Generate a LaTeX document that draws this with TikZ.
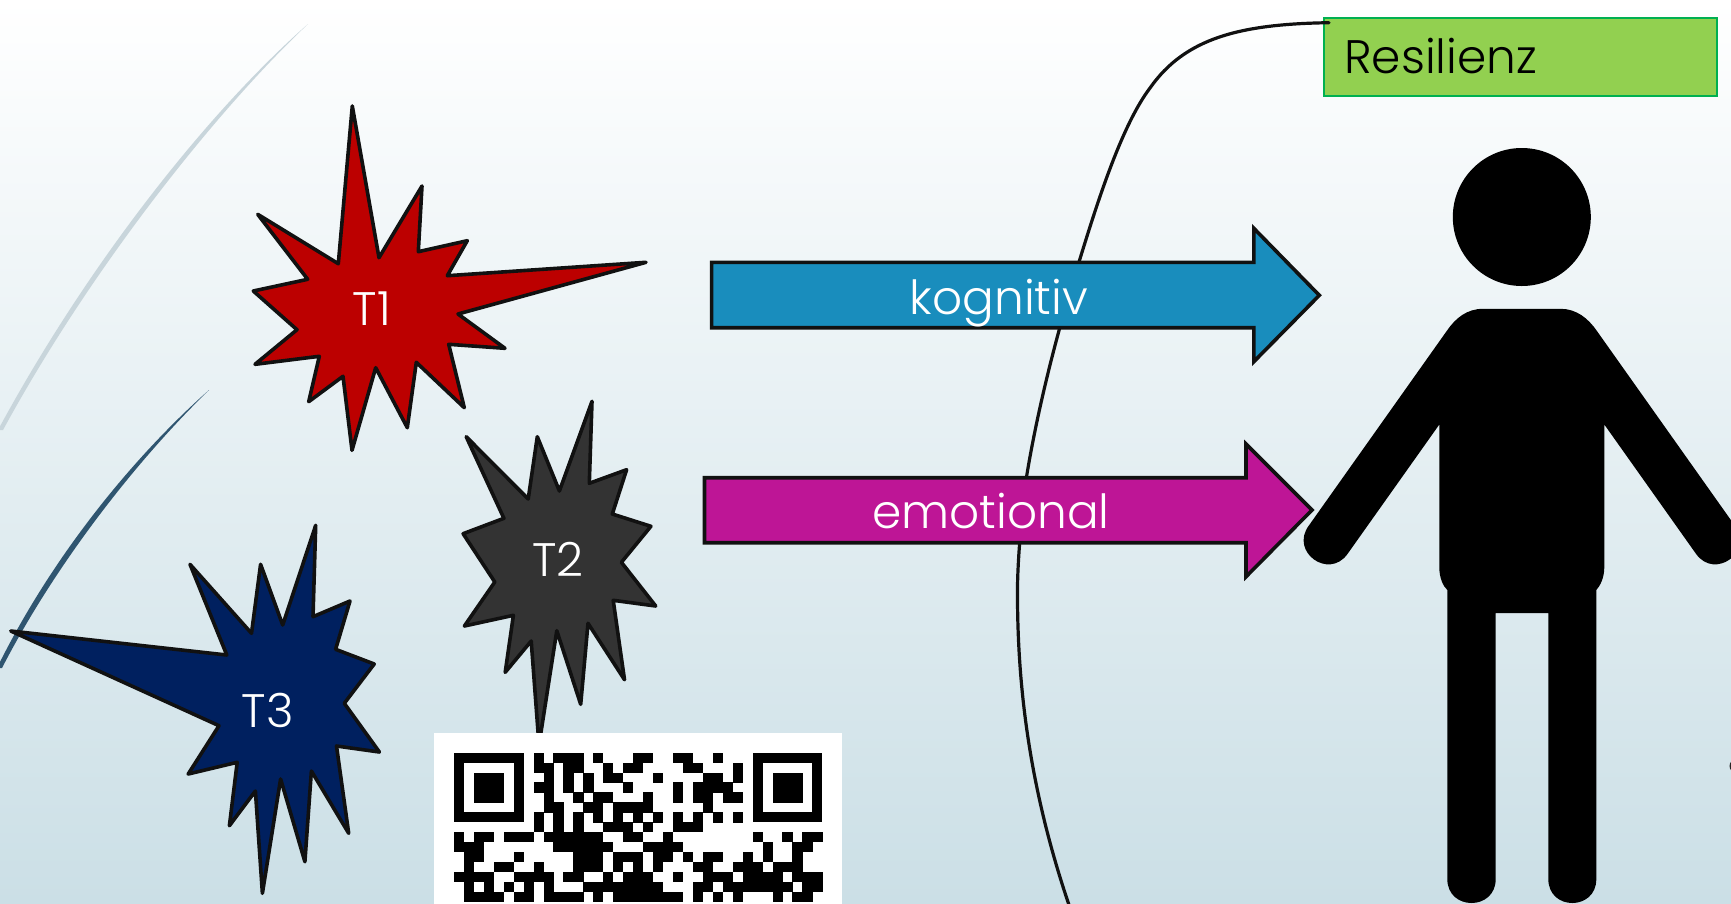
\documentclass[tikz,border=0pt]{standalone}
\usepackage{fontspec}
\setmainfont{Poppins}[UprightFont=* Light]
\definecolor{bgtop}{HTML}{FFFFFF}
\definecolor{bgmid}{HTML}{E9F1F4}
\definecolor{bgbot}{HTML}{CBDFE6}
\definecolor{swlight}{HTML}{C8D5DB}
\definecolor{swdark}{HTML}{2F5570}
\definecolor{edge}{HTML}{111111}
\definecolor{arrblue}{HTML}{198DBD}
\definecolor{arrmag}{HTML}{BE1596}
\definecolor{redT}{HTML}{BC0000}
\definecolor{greyT}{HTML}{333333}
\definecolor{navyT}{HTML}{00205F}
\definecolor{resfill}{HTML}{92D050}
\definecolor{resline}{HTML}{00B050}
\tikzset{
  burst/.style={draw=edge,line width=3.6pt,line join=round},
  blockarrow/.style={draw=edge,line width=3.6pt,line join=miter},
  lab/.style={text=white,font=\fontsize{47}{47}\selectfont,inner sep=0pt,anchor=base},
  curveline/.style={draw=edge,line width=3.2pt,line cap=round},
}
\begin{document}
\begin{tikzpicture}[x=1pt,y=-1pt]
\useasboundingbox (0,0) rectangle (1731,903);
\begin{scope}
\clip (0,0) rectangle (1731,903);
\shade[top color=bgtop,middle color=bgmid,bottom color=bgbot] (0,0) rectangle (1731,903);
% swooshes
\fill[swlight] (308,24) .. controls (210,110) and (90,260) .. (-2,430) -- (3,430) .. controls (90,270) and (215,112) .. (308,24) -- cycle;
\fill[swdark] (209,390) .. controls (130,460) and (50,560) .. (-3,668) -- (2,668) .. controls (55,565) and (135,462) .. (209,390) -- cycle;
% Resilienz
\draw[draw=resline,fill=resfill,line width=2pt] (1323.7,18.4) rectangle (1716.7,95.6);
\node[lab,text=black,anchor=base west] (res) at (1344,73.7) {Resilienz};
% curve
\draw[curveline] (1329,22.7) .. controls (1240,24) and (1185,38) .. (1150,88) .. controls (1122,125) and (1098,200) .. (1079,262) .. controls (1050,355) and (1034,430) .. (1026,480) .. controls (1020,530) and (1017,570) .. (1017.5,600) .. controls (1018,690) and (1030,790) .. (1069,905);
% arrows
\draw[blockarrow,fill=arrblue] (711.6,262.3) -- (1253.8,262.3) -- (1253.8,228.3) -- (1319.3,295.3) -- (1253.8,361.7) -- (1253.8,327.7) -- (711.6,327.7) -- cycle;
\draw[blockarrow,fill=arrmag] (704.5,477.7) -- (1246,477.7) -- (1246,444) -- (1312,510) -- (1246,576.7) -- (1246,542.7) -- (704.5,542.7) -- cycle;
\node[lab] (kog) at (999,314) {kognitiv};
\node[lab] (emo) at (991,528.7) {emotional};
% T1
\draw[burst,fill=redT] (352.3,106) -- (379,257.7) -- (422,186) -- (418.3,251.7) -- (467.3,240.7) -- (447.3,275.7) -- (646,262.3) -- (458,314) -- (505,348.3) -- (448.7,344.3) -- (464.3,407.7) -- (416.3,362.3) -- (407.3,427.7) -- (375.7,367.7) -- (352,450.3) -- (343,376.3) -- (308.7,401.7) -- (319.3,356.3) -- (255,364.3) -- (297,329.7) -- (253.3,291) -- (307.7,279.3) -- (257.7,214.3) -- (338.3,263.7) -- cycle;
\node[lab] (t1) at (371.7,325) {T1};
% T2
\draw[burst,fill=greyT] (466.2,436.7) -- (528.2,499) -- (537.3,436.7) -- (559.4,491) -- (592,401.3) -- (589.3,483.3) -- (626.6,469.7) -- (612.3,514) -- (650.9,526.3) -- (621.4,562.3) -- (655.7,606) -- (613.2,600.3) -- (624.5,679.7) -- (588,623.3) -- (580.7,704.3) -- (556.8,630.7) -- (539,745) -- (531.2,641) -- (505.2,672.3) -- (513.4,615.3) -- (464.4,626) -- (494.8,582) -- (463.1,533.7) -- (503.9,518.3) -- cycle;
\node[lab] (t2) at (557.7,576) {T2};
% T3
\draw[burst,fill=navyT] (10.8,631) -- (226.8,655) -- (190,564.3) -- (251.5,633.3) -- (260.6,564.3) -- (282.7,625) -- (315.7,525.3) -- (313,616.7) -- (350,601) -- (335.6,649.3) -- (374.2,664) -- (344.3,703.3) -- (379.4,752) -- (336.5,746) -- (348.7,833.3) -- (311.4,771) -- (304.9,861.7) -- (280.6,779) -- (262.4,893.3) -- (255.4,791) -- (229.4,825.7) -- (237.2,762.3) -- (188.2,774) -- (219,725.7) -- cycle;
\node[lab] (t3) at (267.6,727) {T3};
% person
\fill[black] (1521.8,217) circle[radius=69];
\fill[black] (1483,308.8) -- (1560.6,308.8) .. controls (1576,308.8) and (1588,318) .. (1596.9,331)
 -- (1735,525.9) .. controls (1753.8,551.8) and (1715,580) .. (1696.2,554.1)
 -- (1604.3,424.5) -- (1604.3,567) .. controls (1604.3,578) and (1600,586) .. (1596.3,590)
 -- (1596.3,879) .. controls (1596.3,911) and (1548.3,911) .. (1548.3,879)
 -- (1548.3,613) -- (1495.7,613) -- (1495.7,879) .. controls (1495.7,911) and (1447.3,911) .. (1447.3,879)
 -- (1447.3,590) .. controls (1443,586) and (1439.3,578) .. (1439.3,567)
 -- (1439.3,424.5) -- (1347.4,554.1) .. controls (1328.6,580) and (1289.8,551.8) .. (1308.6,525.9)
 -- (1446.7,331) .. controls (1455.5,318) and (1467,308.8) .. (1483,308.8) -- cycle;
\fill[black!85] (1736.5,766) circle[radius=7];
% QR
\fill[white] (434,732.7) rectangle (842,910);
\def\qm{9.957}
\def\qx{454}
\def\qy{752.7}
\foreach \c in {0,30}{
  \fill[black] ({\qx+\qm*\c},\qy) rectangle ({\qx+\qm*(\c+7)},{\qy+\qm*7});
  \fill[white] ({\qx+\qm*(\c+1)},{\qy+\qm}) rectangle ({\qx+\qm*(\c+6)},{\qy+\qm*6});
  \fill[black] ({\qx+\qm*(\c+2)},{\qy+\qm*2}) rectangle ({\qx+\qm*(\c+5)},{\qy+\qm*5});
}
\foreach \r/\a/\b in {
0/8/8,0/10/12,0/14/14,0/18/19,0/22/23,0/26/26,
1/8/9,1/11/12,1/15/15,1/17/18,1/23/24,1/28/28,
2/9/9,2/11/11,2/13/13,2/15/16,2/20/20,2/25/26,2/28/28,
3/8/9,3/11/11,3/13/13,3/17/17,3/22/22,3/24/27,
4/9/9,4/12/12,4/14/15,4/19/19,4/22/22,4/24/25,4/27/28,
5/9/10,5/13/14,5/16/19,5/25/25,
6/8/8,6/10/10,6/12/12,6/14/14,6/16/16,6/18/18,6/20/20,6/22/22,6/24/24,6/26/26,6/28/28,
7/8/8,7/10/10,7/12/12,7/15/17,7/19/19,7/22/24,
8/0/0,8/2/3,8/5/7,8/9/14,8/17/18,8/21/21,8/30/30,8/33/33,8/35/36,
9/0/2,9/10/15,9/19/22,9/31/31,9/34/35,
10/1/2,10/6/6,10/12/14,10/16/18,10/20/21,10/23/23,10/25/26,10/29/29,10/31/31,10/34/34,
11/1/1,11/4/5,11/8/8,11/12/14,11/16/16,11/18/18,11/20/20,11/24/25,11/28/30,11/32/34,
12/0/3,12/6/9,12/11/12,12/15/15,12/17/19,12/22/22,12/25/27,12/29/32,12/34/36,
13/1/1,13/3/3,13/5/5,13/7/7,13/9/9,13/13/20,13/24/25,13/27/33,13/35/36,
14/1/4,14/6/7,14/9/12,14/14/14,14/16/22,14/24/24,14/26/26,14/28/28,14/32/32,14/34/35}{
  \fill[black] ({\qx+\qm*\a-0.1},{\qy+\qm*\r-0.1}) rectangle ({\qx+\qm*(\b+1)+0.1},{\qy+\qm*(\r+1)+0.1});
}
\end{scope}
\end{tikzpicture}
\end{document}
